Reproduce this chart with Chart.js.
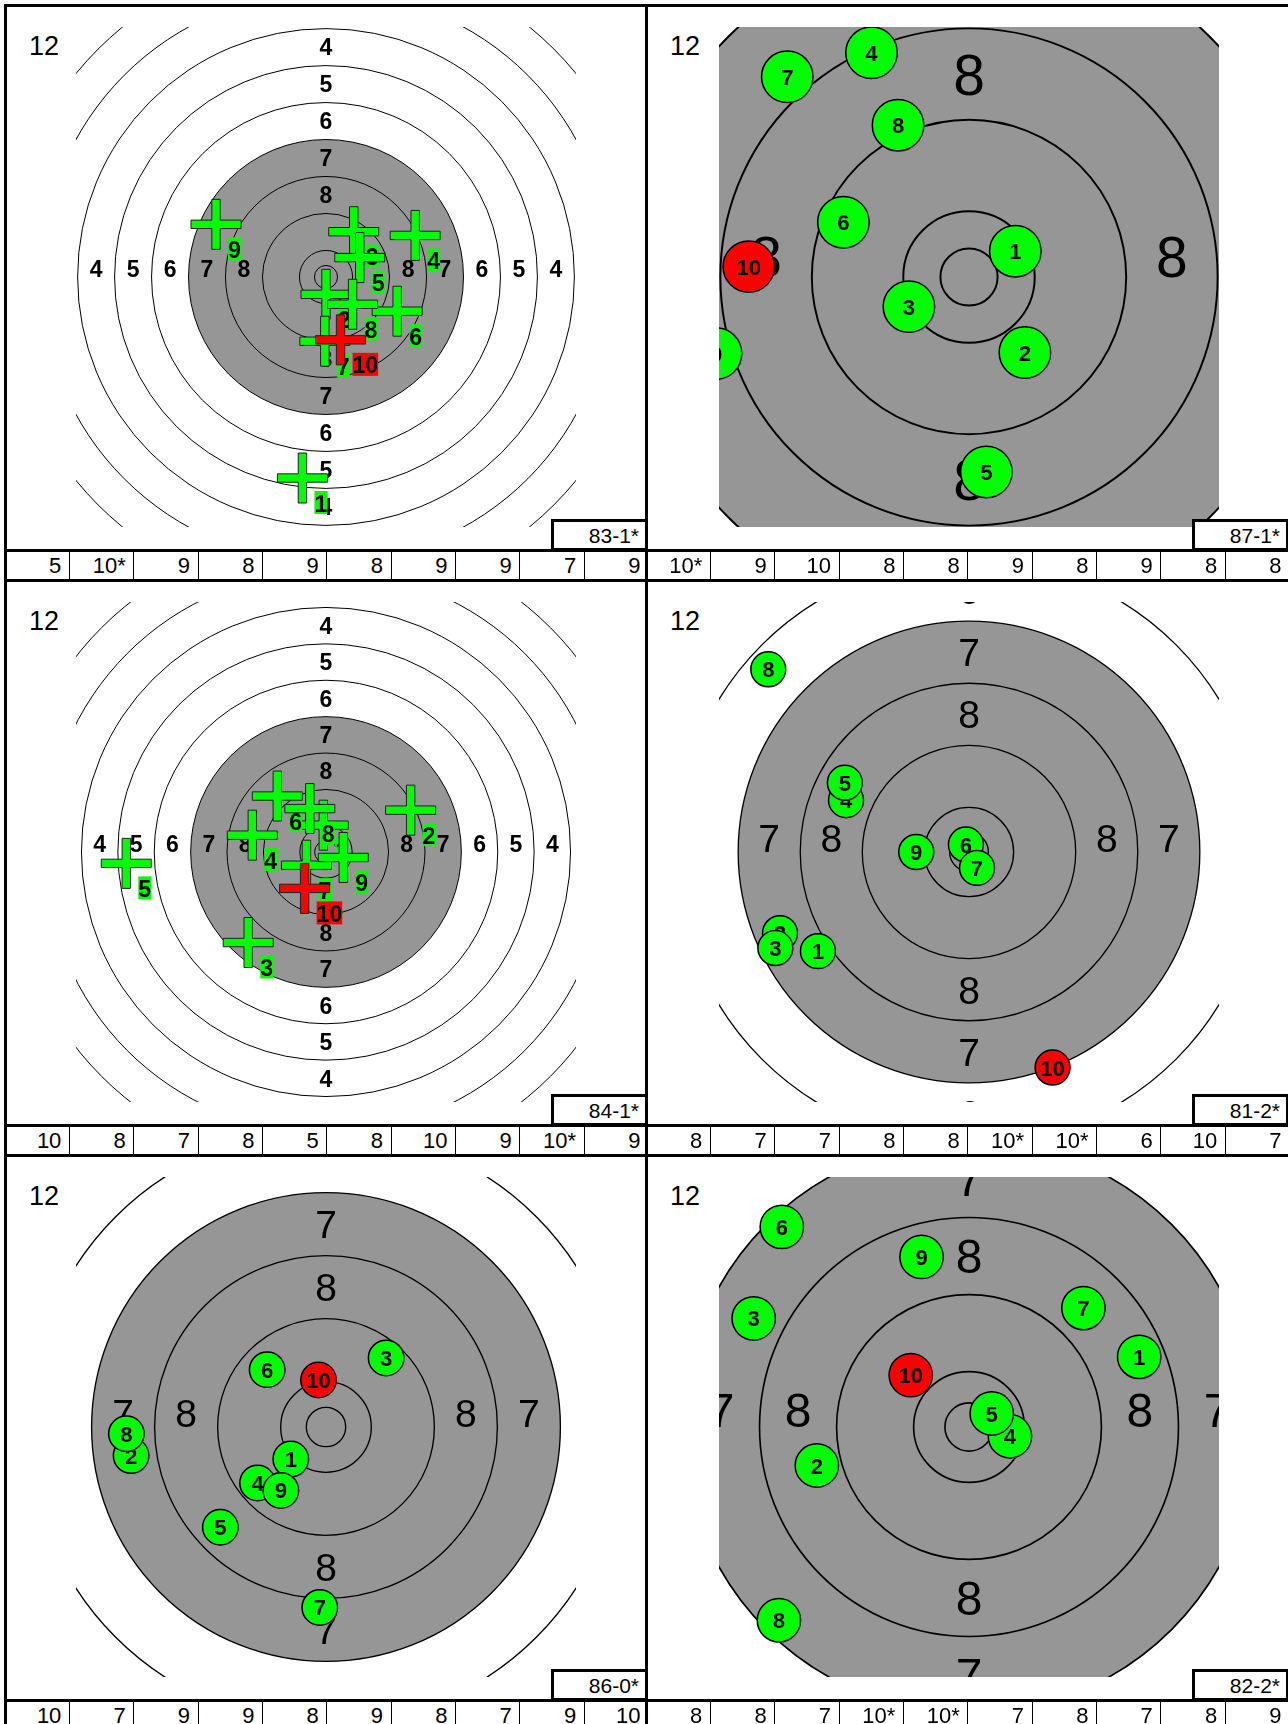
<!DOCTYPE html>
<html>
<head>
<meta charset="utf-8">
<script src="https://cdn.jsdelivr.net/npm/chart.js@4.4.1/dist/chart.umd.min.js"></script>
<style>
html, body { margin: 0; padding: 0; background: #fff; }
#page { position: relative; width: 1288px; height: 1724px; overflow: hidden; background: #fff;
        font-family: Arial, "Liberation Sans", sans-serif; }
.line { position: absolute; background: #000; }
.txt { position: absolute; color: #000; white-space: nowrap; }
.tag { position: absolute; border: 3px solid #000; box-sizing: border-box; background: #fff; }
canvas { position: absolute; }
</style>
</head>
<body>
<div id="page"></div>
<script>
var FONT = 'Arial, "Liberation Sans", sans-serif';

// 10m air pistol card: ring numbers and outer radius of each ring (mm)
var ringNumbers = [1, 2, 3, 4, 5, 6, 7, 8, 9, 10];
var ringRadii = [77.75, 69.75, 61.75, 53.75, 45.75, 37.75, 29.75, 21.75, 13.75, 5.75];
var innerTenRadius = 2.5;
var labelledRings = [1, 2, 3, 4, 5, 6, 7, 8];
var pelletDiameter = 4.5;

// shots 1..10, mm from centre (x right, y up)
var shots83 = [[-5.1, -43.5], [0.0, -3.75], [6.0, 9.8], [19.3, 9.0], [7.3, 4.2],
               [15.4, -7.4], [-0.26, -13.9], [5.75, -5.9], [-23.8, 11.4], [3.15, -13.6]];
var scores83 = ['5', '10*', '9', '8', '9', '8', '9', '9', '7', '9'];

var shots87 = [[4.05, 2.26], [4.89, -6.61], [-5.26, -2.59], [-8.53, 19.62], [1.52, -17.06],
               [-10.99, 4.79], [-15.9, 17.51], [-6.21, 13.28], [-22.13, -6.70], [-19.27, 0.91]];
var scores87 = ['10*', '9', '10', '8', '8', '9', '8', '9', '8', '8'];

var shots84 = [[-0.6, 5.9], [18.6, 9.2], [-17.1, -19.9], [-16.2, 3.7], [-43.9, -2.5],
               [-10.7, 12.3], [-4.3, -2.9], [-3.56, 9.54], [3.8, -1.2], [-4.7, -8.0]];
var scores84 = ['10', '8', '7', '8', '5', '8', '10', '9', '10*', '9'];

var shots81 = [[-19.47, -12.78], [-24.36, -10.47], [-24.96, -12.38], [-15.85, 6.67], [-16.0, 8.92],
               [-0.4, 0.96], [1.03, -2.05], [-25.87, 23.55], [-6.8, 0], [10.77, -27.78]];
var scores81 = ['8', '7', '7', '8', '8', '10*', '10*', '6', '10', '7'];

var shots86 = [[-4.47, -4.07], [-24.74, -3.63], [7.63, 8.77], [-8.69, -7.11], [-13.41, -12.72],
               [-7.47, 7.28], [-0.79, -22.9], [-25.34, -0.85], [-5.73, -8.05], [-0.95, 5.96]];
var scores86 = ['10', '7', '9', '9', '8', '9', '8', '7', '9', '10'];

var shots82 = [[17.67, 7.29], [-15.8, -4.0], [-22.36, 11.28], [4.25, -0.96], [2.36, 1.4],
               [-19.44, 20.78], [11.88, 12.35], [-19.74, -20.07], [-4.93, 17.66], [-6.05, 5.39]];
var scores82 = ['8', '8', '7', '10*', '10*', '7', '8', '7', '8', '9'];

var seriesTags = ['83-1*', '87-1*', '84-1*', '81-2*', '86-0*', '82-2*'];

var panels = [
    { tag: seriesTags[0], shots: shots83, scores: scores83, half: 54.1, marker: 'cross' },
    { tag: seriesTags[1], shots: shots87, scores: scores87, half: 21.87, marker: 'disc' },
    { tag: seriesTags[2], shots: shots84, scores: scores84, half: 54.95, marker: 'cross' },
    { tag: seriesTags[3], shots: shots81, scores: scores81, half: 32.22, marker: 'disc' },
    { tag: seriesTags[4], shots: shots86, scores: scores86, half: 31.73, marker: 'disc' },
    { tag: seriesTags[5], shots: shots82, scores: scores82, half: 25.96, marker: 'disc' }
];

// layout
var page = document.getElementById('page');
var COL_LEFT = [5, 646];
var ROW_TOP = [5.5, 580.5, 1155.5];
var CANVAS_LEFT = [76, 719];
var CANVAS_TOP = [27, 602, 1177];
var VIEW = 500;
var CELL_W = 64.35;

function addLine(x, y, w, h) {
    var d = document.createElement('div');
    d.className = 'line';
    d.style.left = x + 'px';
    d.style.top = y + 'px';
    d.style.width = w + 'px';
    d.style.height = h + 'px';
    page.appendChild(d);
}

function addText(str, x, baseline, size, align) {
    var d = document.createElement('div');
    d.className = 'txt';
    d.textContent = str;
    d.style.fontSize = size + 'px';
    d.style.lineHeight = size + 'px';
    d.style.top = (baseline - 0.8465 * size) + 'px';
    if (align === 'right') {
        d.style.right = (1288 - x) + 'px';
    } else {
        d.style.left = x + 'px';
    }
    page.appendChild(d);
}

function drawCross(ctx, x, y, fill, label) {
    var L = 25, T = 4.2;
    ctx.beginPath();
    ctx.moveTo(x - T, y - L); ctx.lineTo(x + T, y - L); ctx.lineTo(x + T, y - T);
    ctx.lineTo(x + L, y - T); ctx.lineTo(x + L, y + T); ctx.lineTo(x + T, y + T);
    ctx.lineTo(x + T, y + L); ctx.lineTo(x - T, y + L); ctx.lineTo(x - T, y + T);
    ctx.lineTo(x - L, y + T); ctx.lineTo(x - L, y - T); ctx.lineTo(x - T, y - T);
    ctx.closePath();
    ctx.fillStyle = fill;
    ctx.fill();
    ctx.lineWidth = 1;
    ctx.strokeStyle = '#202020';
    ctx.stroke();

    ctx.font = 'bold 23px ' + FONT;
    var w = ctx.measureText(label).width;
    ctx.fillStyle = fill;
    ctx.fillRect(x + 12, y + 13, w, 23);
    ctx.fillStyle = '#000';
    ctx.textAlign = 'left';
    ctx.textBaseline = 'alphabetic';
    ctx.fillText(label, x + 12, y + 33.5);
}

function drawDisc(ctx, x, y, r, fill, label) {
    ctx.beginPath();
    ctx.arc(x, y, r, 0, Math.PI * 2);
    ctx.fillStyle = fill;
    ctx.fill();
    ctx.lineWidth = 1.5;
    ctx.strokeStyle = '#000';
    ctx.stroke();
    ctx.font = 'bold 22px ' + FONT;
    ctx.fillStyle = '#000';
    ctx.textAlign = 'center';
    ctx.textBaseline = 'alphabetic';
    ctx.fillText(label, x, y + 8);
}

var cardPlugin = {
    id: 'card',
    beforeDatasetsDraw: function (chart) {
        var ctx = chart.ctx, a = chart.chartArea;
        var cx = chart.scales.x.getPixelForValue(0);
        var cy = chart.scales.y.getPixelForValue(0);
        var s = chart.scales.x.getPixelForValue(1) - cx;

        ctx.save();
        ctx.beginPath();
        ctx.rect(a.left, a.top, a.right - a.left, a.bottom - a.top);
        ctx.clip();
        ctx.fillStyle = '#fff';
        ctx.fillRect(a.left, a.top, a.right - a.left, a.bottom - a.top);

        // aiming black (rings 7 and up)
        ctx.fillStyle = '#969696';
        ctx.beginPath();
        ctx.arc(cx, cy, ringRadii[ringNumbers.indexOf(7)] * s, 0, Math.PI * 2);
        ctx.fill();

        ctx.strokeStyle = '#000';
        ctx.lineWidth = Math.max(1, 0.17 * s);
        ringRadii.concat([innerTenRadius]).forEach(function (r) {
            ctx.beginPath();
            ctx.arc(cx, cy, r * s, 0, Math.PI * 2);
            ctx.stroke();
        });

        // ring numbers: top/bottom centred on the ring, left/right sit on the centre line
        var size = s < 6 ? 23 : Math.round(4.97 * s);
        ctx.font = (s < 6 ? 'bold ' : '') + size + 'px ' + FONT;
        ctx.fillStyle = '#000';
        ctx.textAlign = 'center';
        ctx.textBaseline = 'alphabetic';
        var dy = 0.358 * size;
        labelledRings.forEach(function (n) {
            var i = ringNumbers.indexOf(n);
            var r = (ringRadii[i] + ringRadii[i + 1]) / 2 * s;
            var t = String(n);
            ctx.fillText(t, cx, cy - r + dy);
            ctx.fillText(t, cx, cy + r + dy);
            ctx.fillText(t, cx - r, cy);
            ctx.fillText(t, cx + r, cy);
        });
        ctx.restore();
    },
    afterDatasetsDraw: function (chart) {
        var ctx = chart.ctx, a = chart.chartArea;
        var marker = chart.options.plugins.card.marker;
        var s = chart.scales.x.getPixelForValue(1) - chart.scales.x.getPixelForValue(0);
        var meta = chart.getDatasetMeta(0);
        ctx.save();
        ctx.beginPath();
        ctx.rect(a.left, a.top, a.right - a.left, a.bottom - a.top);
        ctx.clip();
        meta.data.forEach(function (pt, i) {
            var fill = i === meta.data.length - 1 ? '#ff0000' : '#00ff00';
            var label = String(i + 1);
            if (marker === 'cross') {
                drawCross(ctx, pt.x, pt.y, fill, label);
            } else {
                drawDisc(ctx, pt.x, pt.y, pelletDiameter / 2 * s, fill, label);
            }
        });
        ctx.restore();
    }
};

function makeTarget(p, left, top) {
    var canvas = document.createElement('canvas');
    canvas.width = VIEW;
    canvas.height = VIEW;
    canvas.style.left = left + 'px';
    canvas.style.top = top + 'px';
    page.appendChild(canvas);

    return new Chart(canvas, {
        type: 'scatter',
        data: {
            datasets: [{
                data: p.shots.map(function (s) { return { x: s[0], y: s[1] }; }),
                pointRadius: 0,
                pointHoverRadius: 0
            }]
        },
        options: {
            responsive: false,
            animation: false,
            devicePixelRatio: 1,
            events: [],
            layout: { padding: 0 },
            scales: {
                x: { type: 'linear', min: -p.half, max: p.half, display: false },
                y: { type: 'linear', min: -p.half, max: p.half, display: false }
            },
            plugins: {
                legend: { display: false },
                tooltip: { enabled: false },
                card: { marker: p.marker }
            }
        },
        plugins: [cardPlugin]
    });
}

// targets
for (var i = 0; i < panels.length; i++) {
    var row = Math.floor(i / 2), col = i % 2;
    makeTarget(panels[i], CANVAS_LEFT[col], CANVAS_TOP[row]);
}

// frame
addLine(3.5, 4, 1290, 3);
addLine(3.5, 4, 3, 1724);
addLine(644.5, 4, 3, 1724);
addLine(3.5, ROW_TOP[1] - 1.5, 1290, 3);
addLine(3.5, ROW_TOP[2] - 1.5, 1290, 3);

for (var i = 0; i < panels.length; i++) {
    var row = Math.floor(i / 2), col = i % 2;
    var p = panels[i];
    var x0 = COL_LEFT[col], y0 = ROW_TOP[row];

    addText('12', x0 + 24, y0 + 50, 27, 'left');

    // score strip
    addLine(x0 - 1.5, y0 + 543, 644, 3);
    for (var k = 1; k < 10; k++) {
        addLine(x0 + k * CELL_W - 0.5, y0 + 544, 1, 31);
    }
    for (var k = 0; k < p.scores.length; k++) {
        addText(p.scores[k], x0 + (k + 1) * CELL_W - 8, y0 + 568.5, 22, 'right');
    }

    // series tag box
    var box = document.createElement('div');
    box.className = 'tag';
    box.style.left = (x0 + 545.5) + 'px';
    box.style.top = (y0 + 513.5) + 'px';
    box.style.width = '97px';
    box.style.height = '32px';
    page.appendChild(box);
    addText(p.tag, x0 + 634, y0 + 537.5, 21, 'right');
}
</script>
</body>
</html>
